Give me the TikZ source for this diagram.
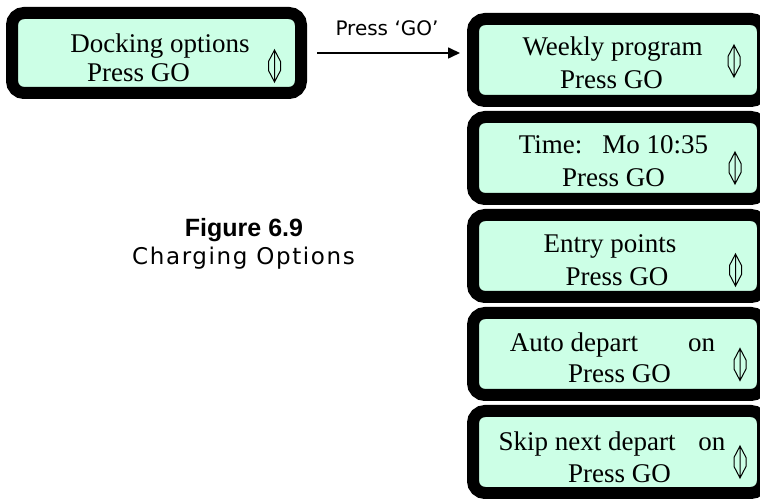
\documentclass[tikz,border=0pt]{standalone}
\usepackage{fontspec}
\setmainfont{Liberation Serif}
\newfontfamily\capfont{DejaVu Sans}
\newfontfamily\headfont{Liberation Sans}
\usepackage{xcolor}
\usetikzlibrary{arrows.meta}
\definecolor{lcdbg}{HTML}{CCFFE6}
\tikzset{
  lcd box/.style={
    rectangle,
    draw=black,
    line width=12pt,
    fill=lcdbg,
    rounded corners=12pt,
    inner sep=0pt,
    outer sep=0pt,
    minimum width=290pt,
    minimum height=82pt
  },
  lcd text/.style={
    anchor=base,
    inner sep=0pt,
    font=\fontsize{27}{32}\selectfont
  },
  go arrow/.style={
    -{Triangle[length=12pt, width=11pt]},
    line width=1.6pt
  },
  updown/.pic={
    \draw[line width=1pt, line join=miter, sharp corners] (0,16) -- (0,-16)
      (0,16) -- (-6,4.5) -- (-6,-4.5) -- (0,-16) -- (6,-4.5) -- (6,4.5) -- cycle;
  }
}

\begin{document}
\begin{tikzpicture}[x=1pt, y=1pt]
  \useasboundingbox (0,0) rectangle (760,498);
  \clip (0,0) rectangle (760,498);

  % Left display
  \node[lcd box, minimum width=289pt, minimum height=80pt] (dock) at (156.5,445) {};
  \node[lcd text] (dockA) at (160,445) {Docking options};
  \node[lcd text] (dockB) at (138.5,416) {Press GO};
  \pic at (274.5,432) {updown};

  % Arrow
  \draw[go arrow, shorten <=16pt, shorten >=13pt] (dock.east) -- (dock.east -| 473,0)
    node[midway, above=16pt, inner sep=0pt, font=\capfont\fontsize{20}{24}\selectfont] (golbl) {Press ‘GO’};

  % Right displays
  \node[lcd box] (week) at (618,438) {};
  \node[lcd box] (clock) at (618,340) {};
  \node[lcd box] (entry) at (618,242) {};
  \node[lcd box] (auto) at (618,144) {};
  \node[lcd box] (skip) at (618,46) {};

  \node[lcd text] (weekA) at (612.5,442) {Weekly program};
  \node[lcd text] (weekB) at (611.5,409) {Press GO};
  \pic at (734,437) {updown};

  \node[lcd text] (clockA) at (613.5,344) {Time:\hspace{20pt}Mo 10:35};
  \node[lcd text] (clockB) at (613.5,311) {Press GO};
  \pic at (735,330) {updown};

  \node[lcd text] (entryA) at (610,245) {Entry points};
  \node[lcd text] (entryB) at (617,212) {Press GO};
  \pic at (735.5,228) {updown};

  \node[lcd text] (autoA) at (612.5,146) {Auto depart\hspace{50pt}on};
  \node[lcd text] (autoB) at (619.5,115) {Press GO};
  \pic at (740,133.5) {updown};

  \node[lcd text] (skipA) at (612,48) {Skip next depart\hspace{23pt}on};
  \node[lcd text] (skipB) at (619.5,16) {Press GO};
  \pic at (740,36) {updown};

  % Caption
  \node[anchor=base, inner sep=0pt, font=\headfont\bfseries\fontsize{25}{30}\selectfont] (fig) at (244,261) {Figure 6.9};
  \node[anchor=base, inner sep=0pt, font=\capfont\fontsize{23}{28}\selectfont\addfontfeature{LetterSpace=7}] (cap) at (243.5,233) {Charging Options};
\end{tikzpicture}
\end{document}
